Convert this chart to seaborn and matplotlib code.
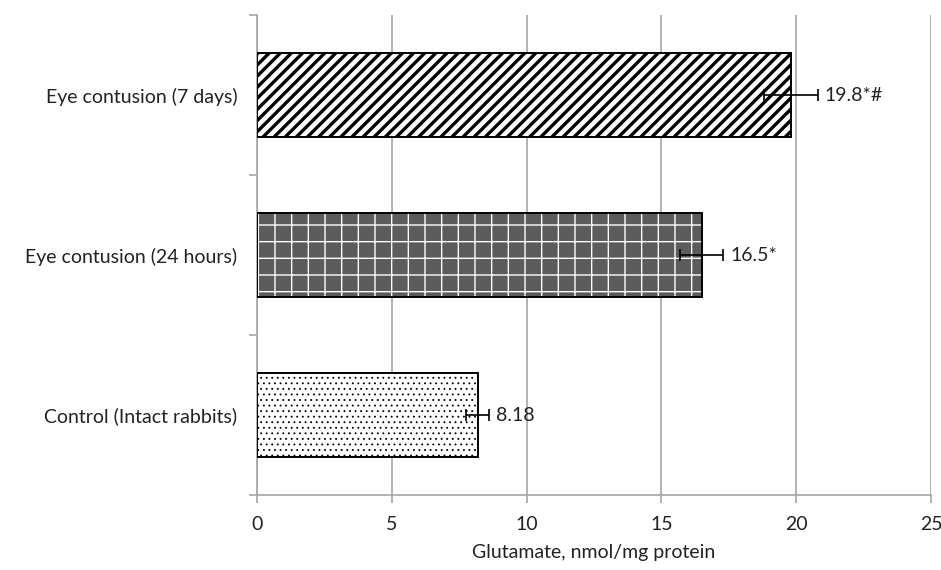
import matplotlib
matplotlib.use("Agg")
import matplotlib.pyplot as plt
import pandas as pd
import seaborn as sns

groups = ["Eye contusion (7 days)", "Eye contusion (24 hours)", "Control (Intact rabbits)"]
glutamate = [19.8, 16.5, 8.18]
errors = [1.0, 0.8, 0.43]
labels = ["19.8*#", "16.5*", "8.18"]
hatches = ["///", "+", "..."]
faces = ["white", "#5c5c5c", "white"]
hatch_cols = ["black", "white", "black"]
hatch_lws = [2.4, 1.0, 0.6]

sns.set_theme(style="white")
plt.rcParams["font.family"] = ["Lato", "DejaVu Sans"]
plt.rcParams["hatch.linewidth"] = 2.4

df = pd.DataFrame({"group": groups, "value": glutamate})

fig = plt.figure(figsize=(9.41, 5.70), dpi=100)
ax = fig.add_axes([257 / 941, 75 / 570, 674 / 941, 480 / 570])

sns.barplot(data=df, x="value", y="group", order=groups, orient="h",
            width=0.525, errorbar=None, ax=ax, zorder=2)

for bar, h, fc, hc, hl in zip(ax.patches, hatches, faces, hatch_cols, hatch_lws):
    bar.set_facecolor(fc)
    bar.set_edgecolor(hc)
    bar.set_hatch(h)
    bar.set_linewidth(0)
    if hasattr(bar, "set_hatch_linewidth"):
        bar.set_hatch_linewidth(hl)

# black outlines on top of the hatched bars
ax.barh(range(len(groups)), glutamate, height=0.525, fill=False,
        edgecolor="black", linewidth=1.4, zorder=3)

ax.errorbar(glutamate, range(len(groups)), xerr=errors, fmt="none",
            ecolor="black", elinewidth=1.2, capsize=4, capthick=1.2, zorder=4)

for i, (v, e, t) in enumerate(zip(glutamate, errors, labels)):
    ax.text(v + e + 0.25, i, t, va="center", ha="left", fontsize=14, color="#222222")

ax.set_xlim(0, 25)
ax.set_ylim(2.5, -0.5)
ax.set_xticks([0, 5, 10, 15, 20, 25])
ax.xaxis.grid(True, color="#a6a6a6", linewidth=1.2, zorder=0)
ax.set_axisbelow(True)

ax.set_yticks([-0.5, 0.5, 1.5, 2.5], minor=True)
ax.tick_params(axis="y", which="major", length=0, pad=14, labelsize=14, labelcolor="#222222")
ax.tick_params(axis="y", which="minor", left=True, length=6, width=1.2, color="#a6a6a6")
ax.tick_params(axis="x", which="major", bottom=True, length=6, width=1.2, color="#a6a6a6",
               pad=9, labelsize=14, labelcolor="#222222")

for s in ["top", "right"]:
    ax.spines[s].set_visible(False)
for s in ["left", "bottom"]:
    ax.spines[s].set_color("#a6a6a6")
    ax.spines[s].set_linewidth(1.2)

ax.set_xlabel("Glutamate, nmol/mg protein", fontsize=14, color="#222222", labelpad=8)
ax.set_ylabel("")

fig.savefig("out.png", dpi=100)
